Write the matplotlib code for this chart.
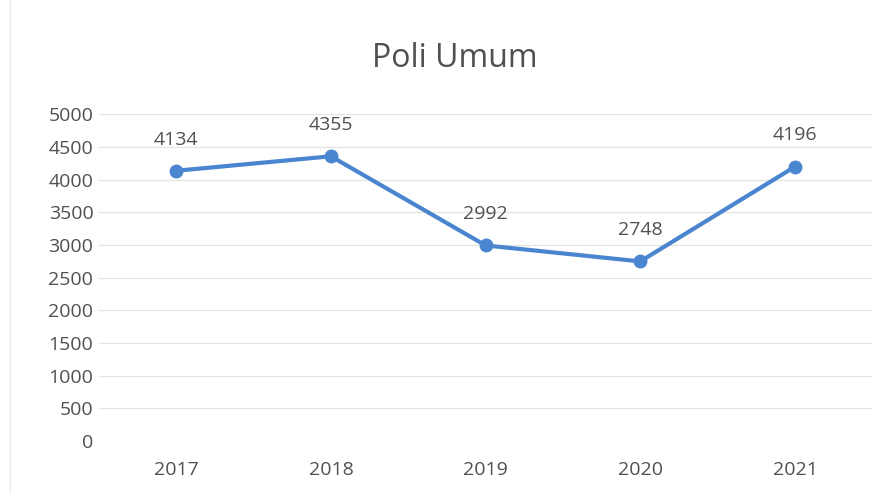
import matplotlib.pyplot as plt

years = ["2017", "2018", "2019", "2020", "2021"]
visits = [4134, 4355, 2992, 2748, 4196]
yticks = list(range(0, 5001, 500))

plt.rcParams['font.family'] = ['Open Sans', 'DejaVu Sans']
txt = '#505050'

fig = plt.figure(figsize=(8.91, 4.94), dpi=100)
ax = fig.add_axes([0.111, 0.107, 0.868, 0.662])

x = range(len(years))
ax.plot(x, visits, color='#4a86d0', lw=3, marker='o', ms=9, solid_capstyle='round', zorder=3)
for i, v in zip(x, visits):
    ax.annotate(str(v), (i, v), xytext=(0, 16), textcoords='offset points',
                ha='center', va='bottom', fontsize=14, color=txt)

ax.set_xlim(-0.5, len(years) - 0.5)
ax.set_ylim(0, 5000)
ax.set_yticks(yticks)
ax.set_xticks(list(x))
ax.set_xticklabels(years)
ax.tick_params(axis='both', length=0, labelsize=14, colors=txt)
ax.tick_params(axis='x', pad=14)
ax.tick_params(axis='y', pad=4)
ax.grid(axis='y', color='#e3e3e3', lw=0.9)
ax.set_axisbelow(True)
for s in ax.spines.values():
    s.set_visible(False)

fig.text(0.51, 0.882, "Poli Umum", ha='center', va='center', fontsize=23, color=txt)
fig.add_artist(plt.Line2D([0.011, 0.011], [0, 1], transform=fig.transFigure, color='#ececec', lw=1))

fig.savefig("out.png", dpi=100)
